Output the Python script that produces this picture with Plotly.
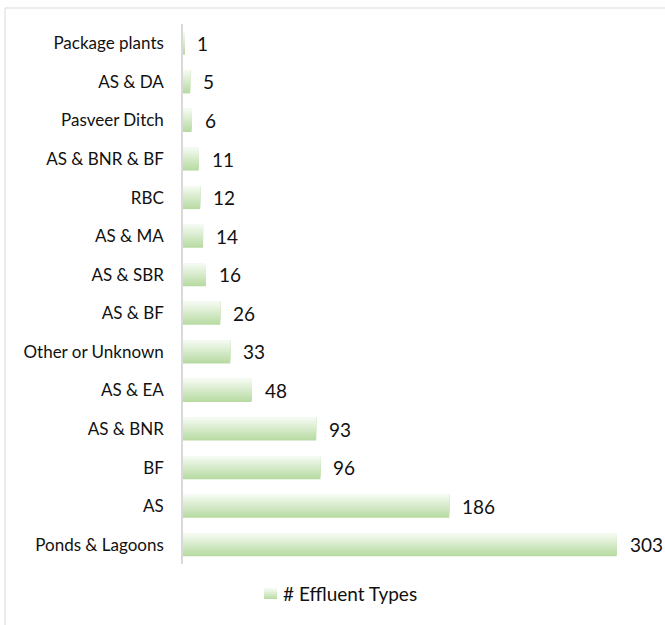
import plotly.graph_objects as go

# Treatment types, listed top to bottom as they appear
categories = [
    "Package plants", "AS & DA", "Pasveer Ditch", "AS & BNR & BF", "RBC",
    "AS & MA", "AS & SBR", "AS & BF", "Other or Unknown", "AS & EA",
    "AS & BNR", "BF", "AS", "Ponds & Lagoons",
]
counts = [1, 5, 6, 11, 12, 14, 16, 26, 33, 48, 93, 96, 186, 303]
series_name = "# Effluent Types"

W, H = 665, 625
L, R, T, B = 183, 24, 24, 61
PW, PH = W - L - R, H - T - B

FONT = "Lato, 'Open Sans', sans-serif"

# Vertical light-to-green gradient, built from stacked bands
top_rgb = (244, 250, 241)
bot_rgb = (184, 219, 163)
N = 14
BAR_W = 0.6
band = BAR_W / N


def mix(t):
    r = [round(bot_rgb[k] + (top_rgb[k] - bot_rgb[k]) * t) for k in range(3)]
    return f"rgb({r[0]},{r[1]},{r[2]})"


fig = go.Figure()
for i in range(N):
    fig.add_trace(go.Bar(
        x=counts, y=categories, orientation="h",
        width=BAR_W - i * band, offset=-BAR_W / 2,
        marker=dict(color=mix(i / (N - 1)), line=dict(width=0)),
        showlegend=False, hoverinfo="skip",
    ))

# Value labels
for c, v in zip(categories, counts):
    fig.add_annotation(x=v, y=c, text=str(v), showarrow=False,
                       xanchor="left", yanchor="middle", xshift=11,
                       font=dict(family=FONT, size=19, color="#111111"))


def px_x(p):
    return (p - L) / PW


def px_y(p):
    return 1 - (p - T) / PH


# Outer chart frame
fig.add_shape(type="rect", xref="paper", yref="paper",
              x0=px_x(5), y0=px_y(700), x1=px_x(720), y1=px_y(8),
              line=dict(color="#d9d9d9", width=1), fillcolor="rgba(0,0,0,0)",
              layer="below")

# Legend: gradient swatch + label
sw_x0, sw_x1, sw_y0, sw_y1 = 264, 277, 588, 599
ns = 6
for i in range(ns):
    fig.add_shape(type="rect", xref="paper", yref="paper",
                  x0=px_x(sw_x0), x1=px_x(sw_x1),
                  y0=px_y(sw_y0 + (sw_y1 - sw_y0) * (i + 1) / ns),
                  y1=px_y(sw_y0 + (sw_y1 - sw_y0) * i / ns),
                  line=dict(width=0), fillcolor=mix(1 - i / (ns - 1)))
fig.add_annotation(xref="paper", yref="paper", x=px_x(281), y=px_y(593),
                   text=series_name, showarrow=False,
                   xanchor="left", yanchor="middle",
                   font=dict(family=FONT, size=19, color="#111111"))

fig.update_layout(
    width=W, height=H,
    margin=dict(l=L, r=R, t=T, b=B, pad=0),
    paper_bgcolor="white", plot_bgcolor="white",
    barmode="overlay",
    showlegend=False,
    xaxis=dict(range=[0, 320], visible=False, showgrid=False, zeroline=False),
    yaxis=dict(
        type="category", categoryorder="array", categoryarray=categories,
        autorange="reversed", showgrid=False, zeroline=False,
        showline=True, linecolor="#d9d9d9", linewidth=1.5,
        ticks="", ticklabelstandoff=14,
        tickfont=dict(family=FONT, size=17, color="#111111"),
    ),
)

fig.write_html("out.html")
